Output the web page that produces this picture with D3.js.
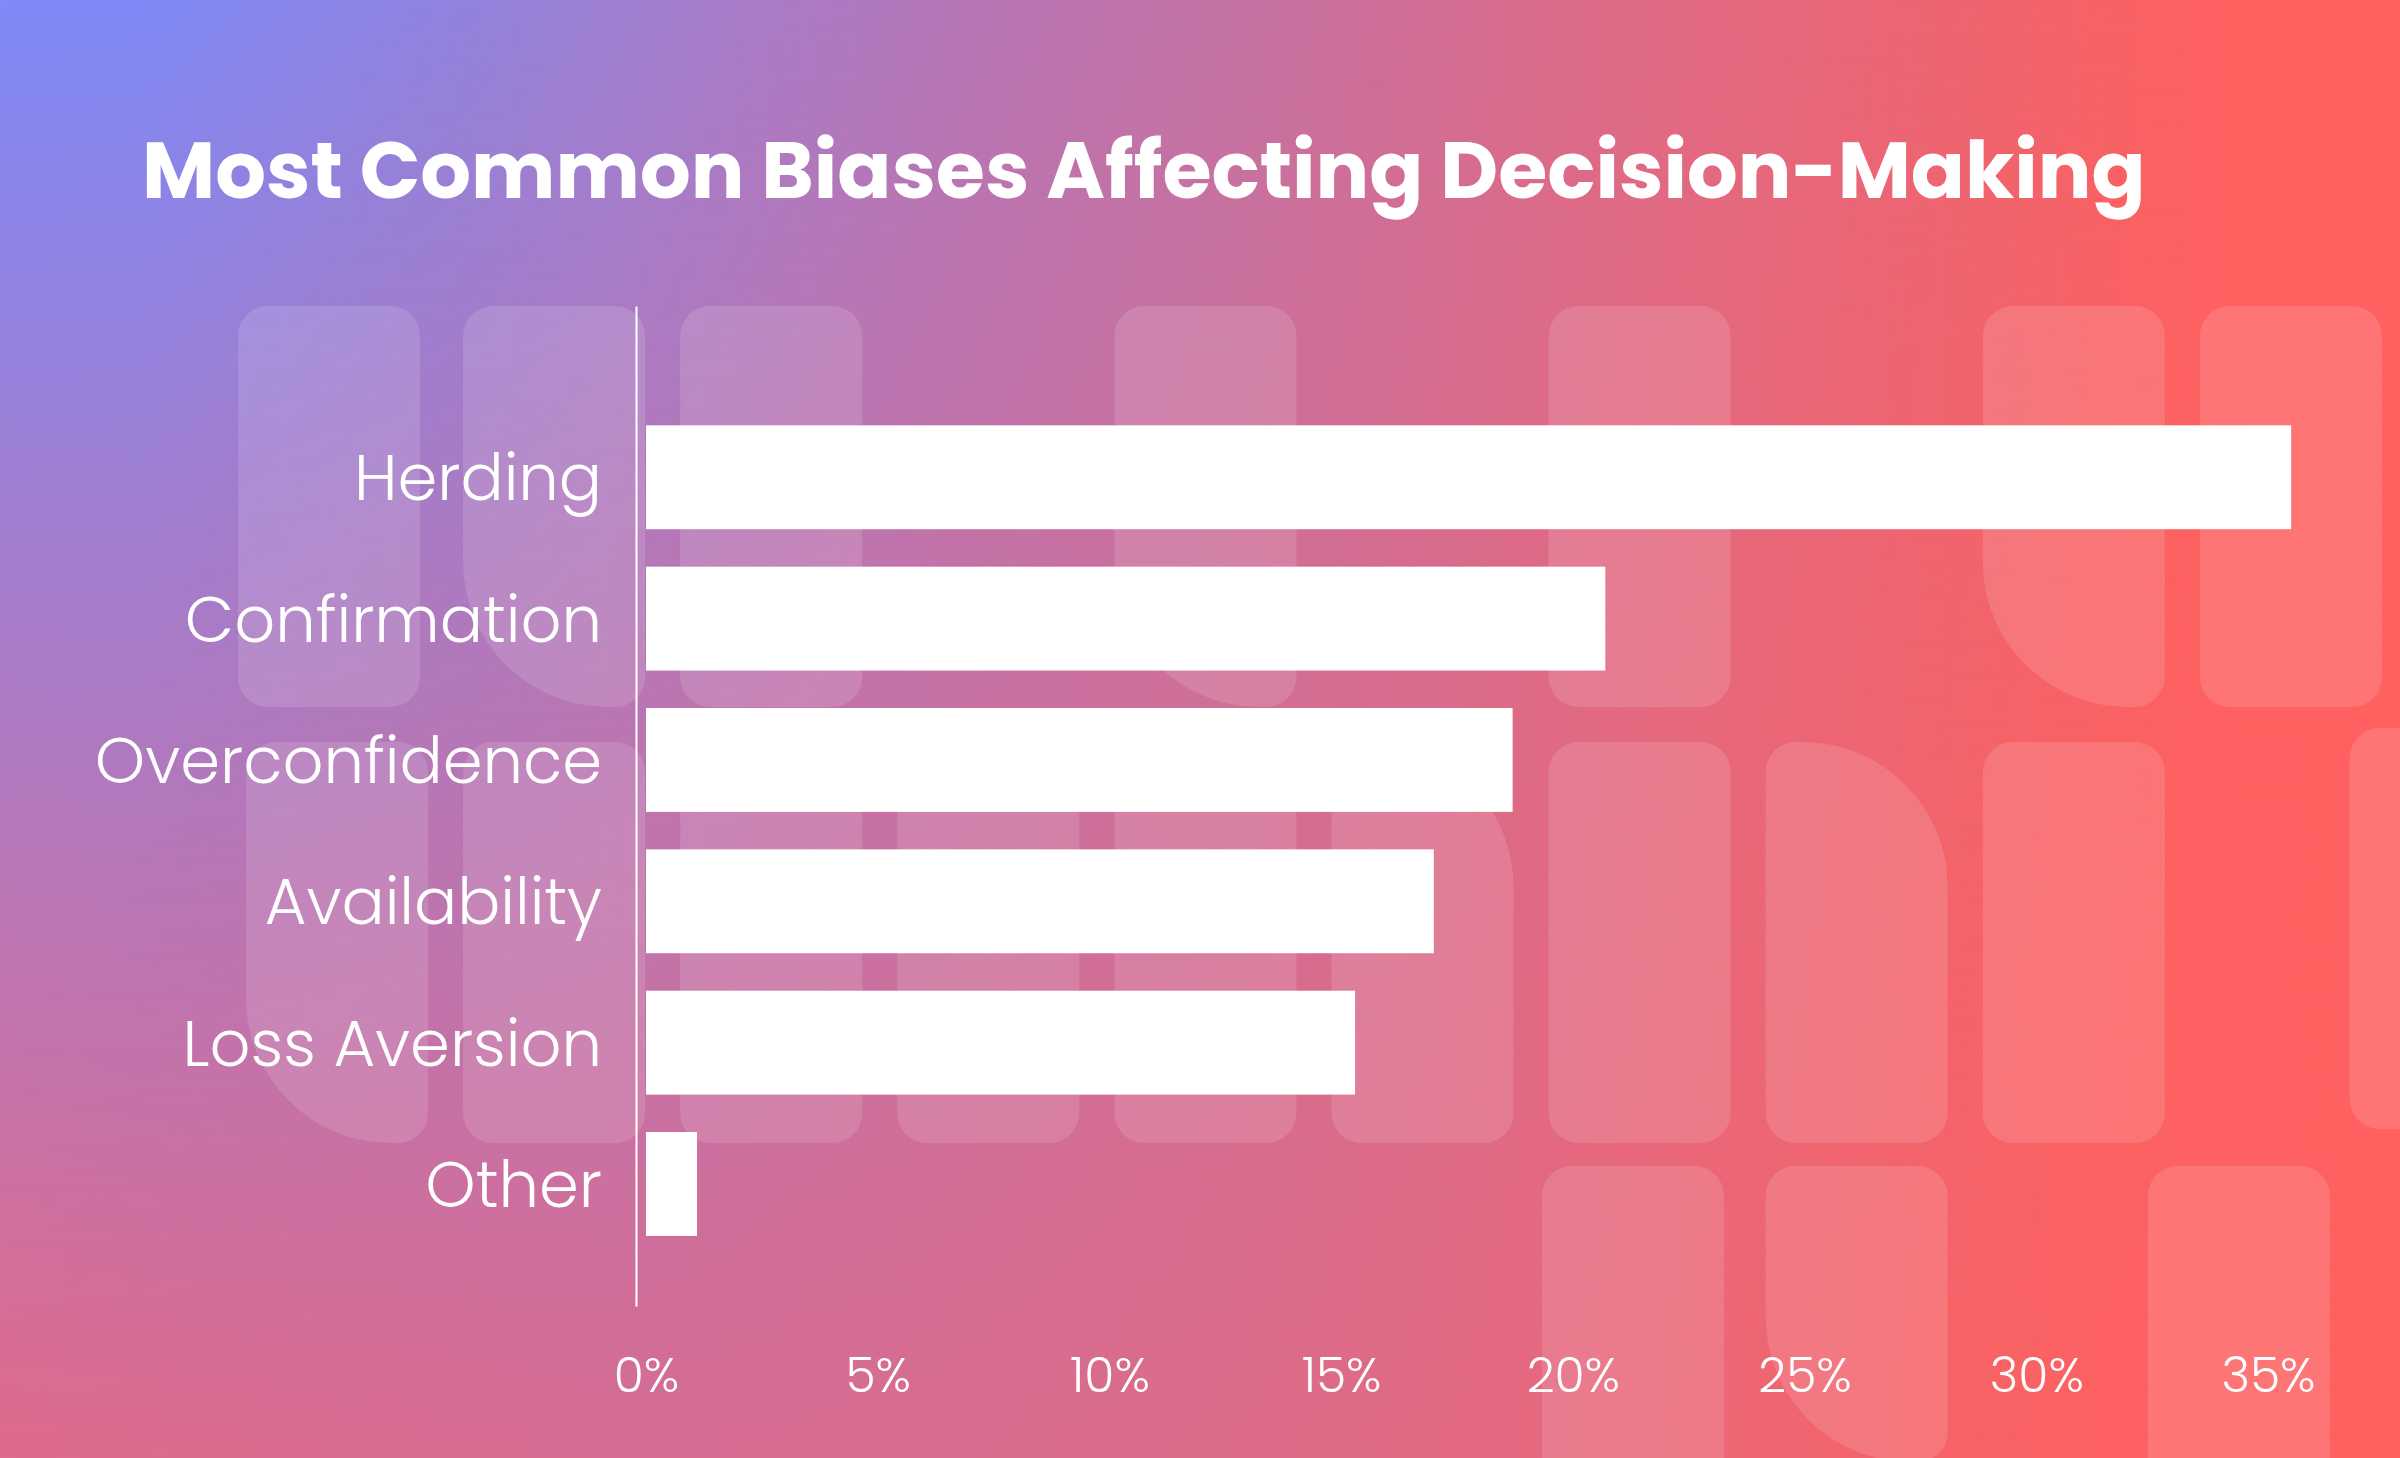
<!DOCTYPE html>
<html>
<head>
<meta charset="utf-8">
<script src="https://cdn.jsdelivr.net/npm/d3@7"></script>
<style>
  html, body { margin: 0; padding: 0; background: #ffffff; }
  svg { display: block; }
</style>
</head>
<body>
<div id="chart"></div>
<script>
// values (percent of respondents)
const categories = ["Herding", "Confirmation", "Overconfidence", "Availability", "Loss Aversion", "Other"]
const shares = [35.5, 20.7, 18.7, 17.0, 15.3, 1.1]
const tickValues = [0, 5, 10, 15, 20, 25, 30, 35]
const TITLE = "Most Common Biases Affecting Decision-Making"

const WIDTH = 2400
const HEIGHT = 1458
const FONT = "Poppins, Inter, 'Noto Sans', sans-serif"

// background tiles: grid column, grid row, corner with the big curve
const tileCols = [0, 1, 2, 4, 6, 8, 9, 0, 1, 2, 3, 4, 5, 6, 7, 8, 9.69, 5.97, 7, 8.76]
const tileRows = [0, 0, 0, 0, 0, 0, 0, 1, 1, 1, 1, 1, 1, 1, 1, 1, 1, 2, 2, 2]
const tileBig  = ["", "bl", "", "bl", "", "bl", "", "bl", "", "", "", "", "tr", "", "tr", "", "", "", "bl", ""]

let svg = d3.select("#chart").append("svg")
    .attr("width", WIDTH)
    .attr("height", HEIGHT)

// background: a top colour band blended into a bottom colour band
let defs = svg.append("defs")
function hGradient(id, stops) {
    let g = defs.append("linearGradient")
        .attr("id", id)
        .attr("gradientUnits", "userSpaceOnUse")
        .attr("x1", 0).attr("y1", 0).attr("x2", WIDTH).attr("y2", 0)
    g.selectAll("stop").data(stops).join("stop")
        .attr("offset", d => d[0])
        .attr("stop-color", d => d[1])
}
hGradient("topBand", [
    [0, "#7f8af8"], [0.06, "#7f89f6"], [0.19, "#9183de"], [0.255, "#9d80d3"],
    [0.32, "#aa7bc6"], [0.45, "#bd74ae"], [0.51, "#c473a4"], [0.57, "#cd6f9a"],
    [0.64, "#d96c8c"], [0.70, "#e16a82"], [0.765, "#e8677a"], [0.83, "#f0646e"],
    [0.89, "#f96264"], [0.93, "#ff6161"], [1, "#ff6161"]
])
hGradient("bottomBand", [
    [0, "#df6a8b"], [0.13, "#da6b8f"], [0.26, "#d66c93"], [0.38, "#d86c8f"],
    [0.51, "#dc6b89"], [0.58, "#e06a83"], [0.64, "#e5687e"], [0.73, "#ee6673"],
    [0.81, "#f66367"], [0.88, "#fd6161"], [1, "#ff6161"]
])
let fade = defs.append("linearGradient")
    .attr("id", "fade")
    .attr("gradientUnits", "userSpaceOnUse")
    .attr("x1", 0).attr("y1", 0).attr("x2", 0).attr("y2", HEIGHT)
fade.append("stop").attr("offset", 0).attr("stop-color", "#000000")
fade.append("stop").attr("offset", 1).attr("stop-color", "#ffffff")
defs.append("mask").attr("id", "fadeMask")
    .append("rect")
    .attr("width", WIDTH)
    .attr("height", HEIGHT)
    .attr("fill", "url(#fade)")

svg.append("rect")
    .attr("width", WIDTH)
    .attr("height", HEIGHT)
    .attr("fill", "url(#topBand)")
svg.append("rect")
    .attr("width", WIDTH)
    .attr("height", HEIGHT)
    .attr("fill", "url(#bottomBand)")
    .attr("mask", "url(#fadeMask)")

// decorative tiles
const TILE_W = 182, TILE_H = 401
const colX = d3.scaleLinear().domain([0, 1]).range([246, 463.1])
const rowTop = [306, 742, 1166]
const rowShift = { "9.69": -14 }

function tilePath(x, y, w, h, big) {
    const r = 30, R = 145
    const tl = big === "tl" ? R : r, tr = big === "tr" ? R : r
    const br = big === "br" ? R : r, bl = big === "bl" ? R : r
    return `M${x + tl},${y} H${x + w - tr} A${tr},${tr} 0 0 1 ${x + w},${y + tr}` +
        ` V${y + h - br} A${br},${br} 0 0 1 ${x + w - br},${y + h} H${x + bl}` +
        ` A${bl},${bl} 0 0 1 ${x},${y + h - bl} V${y + tl} A${tl},${tl} 0 0 1 ${x + tl},${y} Z`
}

svg.append("g")
    .selectAll("path")
    .data(tileCols.map((c, i) => ({ col: c, row: tileRows[i], big: tileBig[i] })))
    .join("path")
    .attr("d", d => {
        let x = d.col === 0 && d.row === 0 ? 238 : colX(d.col)
        let y = rowTop[d.row] + (rowShift[d.col] || 0)
        let h = d.row === 2 && d.big === "bl" ? 296 : TILE_H
        return tilePath(x, y, TILE_W, h, d.big)
    })
    .attr("fill", "#ffffff")
    .attr("fill-opacity", 0.13)

// scales
let x = d3.scaleLinear()
    .domain([0, 35])
    .range([646, 2268])

let y = d3.scaleBand()
    .domain(categories)
    .range([306, 1306])
    .paddingInner(0.265)
    .paddingOuter(0.67)
    .align(0.63)

// bars
svg.append("g")
    .selectAll("rect")
    .data(categories)
    .join("rect")
    .attr("x", x(0))
    .attr("y", d => y(d))
    .attr("width", (d, i) => x(shares[i]) - x(0))
    .attr("height", y.bandwidth())
    .attr("fill", "#ffffff")

// y axis: vertical line + category labels
let yAxis = svg.append("g")
    .attr("transform", "translate(636,0)")
    .call(d3.axisLeft(y).tickSize(0).tickSizeOuter(0).tickPadding(34))
yAxis.select(".domain")
    .attr("stroke", "#ffffff")
    .attr("stroke-width", 2)
yAxis.selectAll("text")
    .attr("fill", "#ffffff")
    .attr("dy", "0.36em")
    .style("font-family", FONT)
    .style("font-weight", 300)
    .style("font-size", "64px")

// x axis: tick labels only
let xAxis = svg.append("g")
    .attr("transform", "translate(0,1392)")
    .call(d3.axisBottom(x).tickValues(tickValues).tickFormat(d => d + "%").tickSize(0).tickPadding(0))
xAxis.select(".domain").remove()
xAxis.selectAll("text")
    .attr("fill", "#ffffff")
    .attr("y", 0)
    .attr("dy", 0)
    .style("font-family", FONT)
    .style("font-weight", 300)
    .style("font-size", "48px")

// title
let title = svg.append("text")
    .attr("x", 142)
    .attr("y", 198)
    .attr("fill", "#ffffff")
    .style("font-family", FONT)
    .style("font-weight", 700)
    .style("font-size", "80px")
    .text(TITLE)

// fit text widths to the picture
let tw = title.node().getComputedTextLength()
title.style("font-size", (80 * 2005 / tw).toFixed(1) + "px")

let labelNodes = yAxis.selectAll("text")
let overNode = labelNodes.filter(d => d === "Overconfidence").node()
let lsize = 64 * 507 / overNode.getComputedTextLength()
labelNodes.style("font-size", lsize.toFixed(1) + "px")

let tickNodes = xAxis.selectAll("text")
let lastTick = tickNodes.filter(d => d === 35).node()
let tsize = 48 * 94 / lastTick.getComputedTextLength()
tickNodes.style("font-size", tsize.toFixed(1) + "px")
</script>
</body>
</html>
